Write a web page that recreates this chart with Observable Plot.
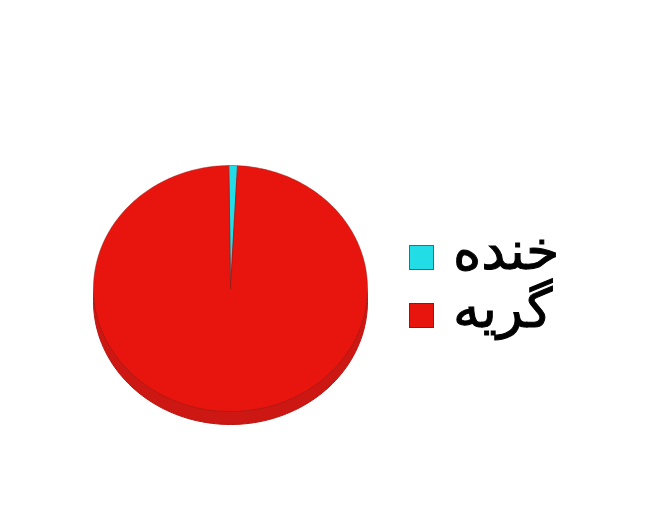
<!DOCTYPE html>
<html><head><meta charset="utf-8">
<script src="https://cdn.jsdelivr.net/npm/d3@7"></script>
<script src="https://cdn.jsdelivr.net/npm/@observablehq/plot@0.6"></script>
<style>
body{margin:0;background:#fff;}
#wrap{position:relative;width:666px;height:516px;}
#legend{position:absolute;left:409px;top:228px;font-family:"DejaVu Sans",sans-serif;}
.item{display:flex;align-items:center;height:58px;}
.sw{width:25px;height:25px;box-sizing:border-box;border:1.5px solid #555;margin-right:19px;}
.lab{font-size:54px;line-height:58px;color:#000;-webkit-text-stroke:1px #000;position:relative;top:-6px;}
</style></head>
<body><div id="wrap"><div id="legend"></div></div>
<script>
const labels = ["خنده", "گریه"];
const values = [1.0, 99.0];
const colors = ["#22dde6", "#e8150f"];
const swatchBorders = ["#3a6f78", "#7a2020"];

const arcs = d3.pie().sort(null).startAngle(-0.012).endAngle(2*Math.PI - 0.012)(values);
const pts = [];
arcs.forEach((a, i) => {
  pts.push({slice: labels[i], x: 0, y: 0});
  const n = Math.max(4, Math.ceil((a.endAngle - a.startAngle) * 60));
  for (let k = 0; k <= n; k++) {
    const t = a.startAngle + (a.endAngle - a.startAngle) * k / n;
    pts.push({slice: labels[i], x: Math.sin(t), y: Math.cos(t)});
  }
  pts.push({slice: labels[i], x: 0, y: 0});
});
const rim = d3.range(0, 361, 2).map(d => ({x: Math.sin(d*Math.PI/180), y: Math.cos(d*Math.PI/180)}));

const chart = Plot.plot({
  width: 666, height: 516, margin: 0,
  x: {domain: [-1, 1], range: [93, 367], axis: null},
  y: {domain: [-1, 1], range: [411, 165], axis: null},
  color: {domain: labels, range: colors},
  marks: [
    Plot.line(rim, {x: "x", y: "y", fill: "#cc1712", stroke: "#b81511", strokeWidth: 1, dy: 13, curve: "linear-closed"}),
    Plot.line(pts, {x: "x", y: "y", z: "slice", fill: "slice", stroke: "#8e1a16", strokeWidth: 0.8, strokeOpacity: 0.6, curve: "linear-closed"})
  ]
});
document.getElementById("wrap").prepend(chart);

const lg = d3.select("#legend");
labels.forEach((l, i) => {
  const it = lg.append("div").attr("class", "item");
  it.append("div").attr("class", "sw").style("background", colors[i]).style("border-color", swatchBorders[i]);
  it.append("span").attr("class", "lab").attr("dir", "rtl").text(l);
});
</script>
</body></html>
